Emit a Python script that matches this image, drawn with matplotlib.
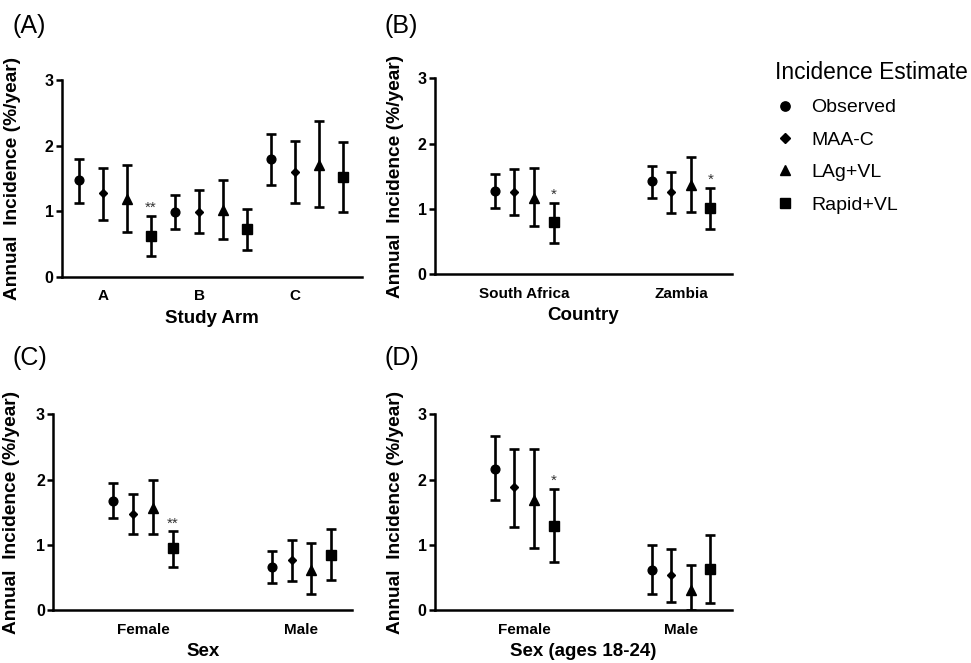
import matplotlib
matplotlib.use("Agg")
import matplotlib.pyplot as plt
from matplotlib.lines import Line2D
import numpy as np

plt.rcParams['font.family'] = ['Liberation Sans', 'DejaVu Sans']

series = ["Observed", "MAA-C", "LAg+VL", "Rapid+VL"]
markers = ["o", "D", "^", "s"]
msizes = [6.3, 4.5, 6.5, 6.5]

# Panel A: Study Arm
a_groups = ["A", "B", "C"]
a_obs = [1.47, 0.98, 1.79]; a_obs_lo = [1.13, 0.73, 1.40]; a_obs_hi = [1.80, 1.24, 2.17]
a_maa = [1.27, 0.99, 1.59]; a_maa_lo = [0.87, 0.67, 1.13]; a_maa_hi = [1.66, 1.32, 2.07]
a_lag = [1.18, 1.01, 1.71]; a_lag_lo = [0.68, 0.58, 1.07]; a_lag_hi = [1.70, 1.48, 2.38]
a_rap = [0.62, 0.72, 1.52]; a_rap_lo = [0.31, 0.40, 0.99]; a_rap_hi = [0.93, 1.04, 2.06]
a_stars = ["**", "", ""]

# Panel B: Country
b_groups = ["South Africa", "Zambia"]
b_obs = [1.27, 1.42]; b_obs_lo = [1.01, 1.17]; b_obs_hi = [1.54, 1.66]
b_maa = [1.26, 1.25]; b_maa_lo = [0.91, 0.94]; b_maa_hi = [1.61, 1.56]
b_lag = [1.16, 1.37]; b_lag_lo = [0.74, 0.95]; b_lag_hi = [1.63, 1.80]
b_rap = [0.79, 1.01]; b_rap_lo = [0.48, 0.69]; b_rap_hi = [1.09, 1.32]
b_stars = ["*", "*"]

# Panel C: Sex
c_groups = ["Female", "Male"]
c_obs = [1.67, 0.66]; c_obs_lo = [1.41, 0.41]; c_obs_hi = [1.94, 0.90]
c_maa = [1.47, 0.77]; c_maa_lo = [1.16, 0.44]; c_maa_hi = [1.78, 1.08]
c_lag = [1.57, 0.62]; c_lag_lo = [1.16, 0.25]; c_lag_hi = [2.00, 1.03]
c_rap = [0.95, 0.85]; c_rap_lo = [0.66, 0.46]; c_rap_hi = [1.21, 1.24]
c_stars = ["**", ""]

# Panel D: Sex (ages 18-24)
d_groups = ["Female", "Male"]
d_obs = [2.16, 0.61]; d_obs_lo = [1.68, 0.25]; d_obs_hi = [2.66, 0.99]
d_maa = [1.88, 0.54]; d_maa_lo = [1.28, 0.13]; d_maa_hi = [2.47, 0.94]
d_lag = [1.69, 0.31]; d_lag_lo = [0.95, 0.00]; d_lag_hi = [2.47, 0.69]
d_rap = [1.29, 0.63]; d_rap_lo = [0.73, 0.11]; d_rap_hi = [1.86, 1.15]
d_stars = ["*", ""]

yticks = [0, 1, 2, 3]
ylabel = "Annual  Incidence (%/year)"

W, H = 971, 663
fig = plt.figure(figsize=(W / 100, H / 100), dpi=100)

def px_axes(left, right, top, bottom):
    return fig.add_axes([left / W, (H - bottom) / H, (right - left) / W, (bottom - top) / H])

def draw(ax, groups, data, stars, gstep, tickoff, xlim, xlabel, ylab_x, label, lab_xy):
    for s, (m, lo, hi) in enumerate(data):
        xs = [g * gstep + s for g in range(len(groups))]
        m = np.array(m); lo = np.array(lo); hi = np.array(hi)
        ax.errorbar(xs, m, yerr=[m - lo, hi - m], fmt=markers[s], ms=msizes[s],
                    color="black", ecolor="black", elinewidth=1.9, capsize=3.3,
                    capthick=1.9, mec="black", mfc="black", zorder=3)
        if s == 3:
            for g, st in enumerate(stars):
                if st:
                    ax.annotate(st, xy=(xs[g], hi[g]), xytext=(0, 0.5),
                                textcoords="offset points", ha="center", va="bottom",
                                fontsize=11, color="#333333")
    ax.set_xlim(*xlim)
    ax.set_ylim(0, 3)
    ax.set_yticks(yticks)
    ax.set_xticks([g * gstep + tickoff for g in range(len(groups))])
    ax.set_xticklabels(groups)
    for sp in ["top", "right"]:
        ax.spines[sp].set_visible(False)
    for sp in ["left", "bottom"]:
        ax.spines[sp].set_linewidth(1.8)
    ax.tick_params(axis="y", length=4, width=1.8, labelsize=11.5, pad=2)
    ax.tick_params(axis="x", length=0, labelsize=11, pad=9)
    for t in ax.get_xticklabels() + ax.get_yticklabels():
        t.set_fontweight("bold")
    ax.set_xlabel(xlabel, fontsize=13.5, fontweight="bold", labelpad=5)
    ax.set_ylabel(ylabel, fontsize=13.8, fontweight="bold")
    ax.yaxis.set_label_coords(ylab_x, 0.5)
    fig.text(lab_xy[0] / W, (H - lab_xy[1]) / H, label, fontsize=18, ha="left", va="center")

def pack(o, ol, oh, m, ml, mh, l, ll, lh, r, rl, rh):
    return [(o, ol, oh), (m, ml, mh), (l, ll, lh), (r, rl, rh)]

axA = px_axes(62, 362, 80, 276.7)
draw(axA, a_groups, pack(a_obs, a_obs_lo, a_obs_hi, a_maa, a_maa_lo, a_maa_hi,
                         a_lag, a_lag_lo, a_lag_hi, a_rap, a_rap_lo, a_rap_hi),
     a_stars, 4, 1, (-0.71, 11.79), "Study Arm", -41 / 300, "(A)", (12, 26))

axB = px_axes(435, 732, 78.3, 274)
draw(axB, b_groups, pack(b_obs, b_obs_lo, b_obs_hi, b_maa, b_maa_lo, b_maa_hi,
                         b_lag, b_lag_lo, b_lag_hi, b_rap, b_rap_lo, b_rap_hi),
     b_stars, 8, 1.5, (-3.05, 12.1), "Country", -31 / 297, "(B)", (384, 26))

axC = px_axes(53.3, 352, 414.3, 610)
draw(axC, c_groups, pack(c_obs, c_obs_lo, c_obs_hi, c_maa, c_maa_lo, c_maa_hi,
                         c_lag, c_lag_lo, c_lag_hi, c_rap, c_rap_lo, c_rap_hi),
     c_stars, 8, 1.5, (-3.03, 12.05), "Sex", -33 / 299, "(C)", (12, 358))

axD = px_axes(435, 732, 414.3, 610)
draw(axD, d_groups, pack(d_obs, d_obs_lo, d_obs_hi, d_maa, d_maa_lo, d_maa_hi,
                         d_lag, d_lag_lo, d_lag_hi, d_rap, d_rap_lo, d_rap_hi),
     d_stars, 8, 1.5, (-3.05, 12.1), "Sex (ages 18-24)", -31 / 297, "(D)", (384, 358))

handles = [Line2D([], [], ls="none", marker=markers[i], ms=msizes[i] + 0.4, color="black")
           for i in range(4)]
leg = fig.legend(handles, series, loc="upper left", bbox_to_anchor=(775 / W, 1 - 61 / H),
                 frameon=False, fontsize=14, title="Incidence Estimate", title_fontsize=16.4,
                 alignment="left", handlelength=1.0, handletextpad=0.85, labelspacing=0.76,
                 borderaxespad=0, borderpad=0)

fig.savefig("out.png", dpi=100)
